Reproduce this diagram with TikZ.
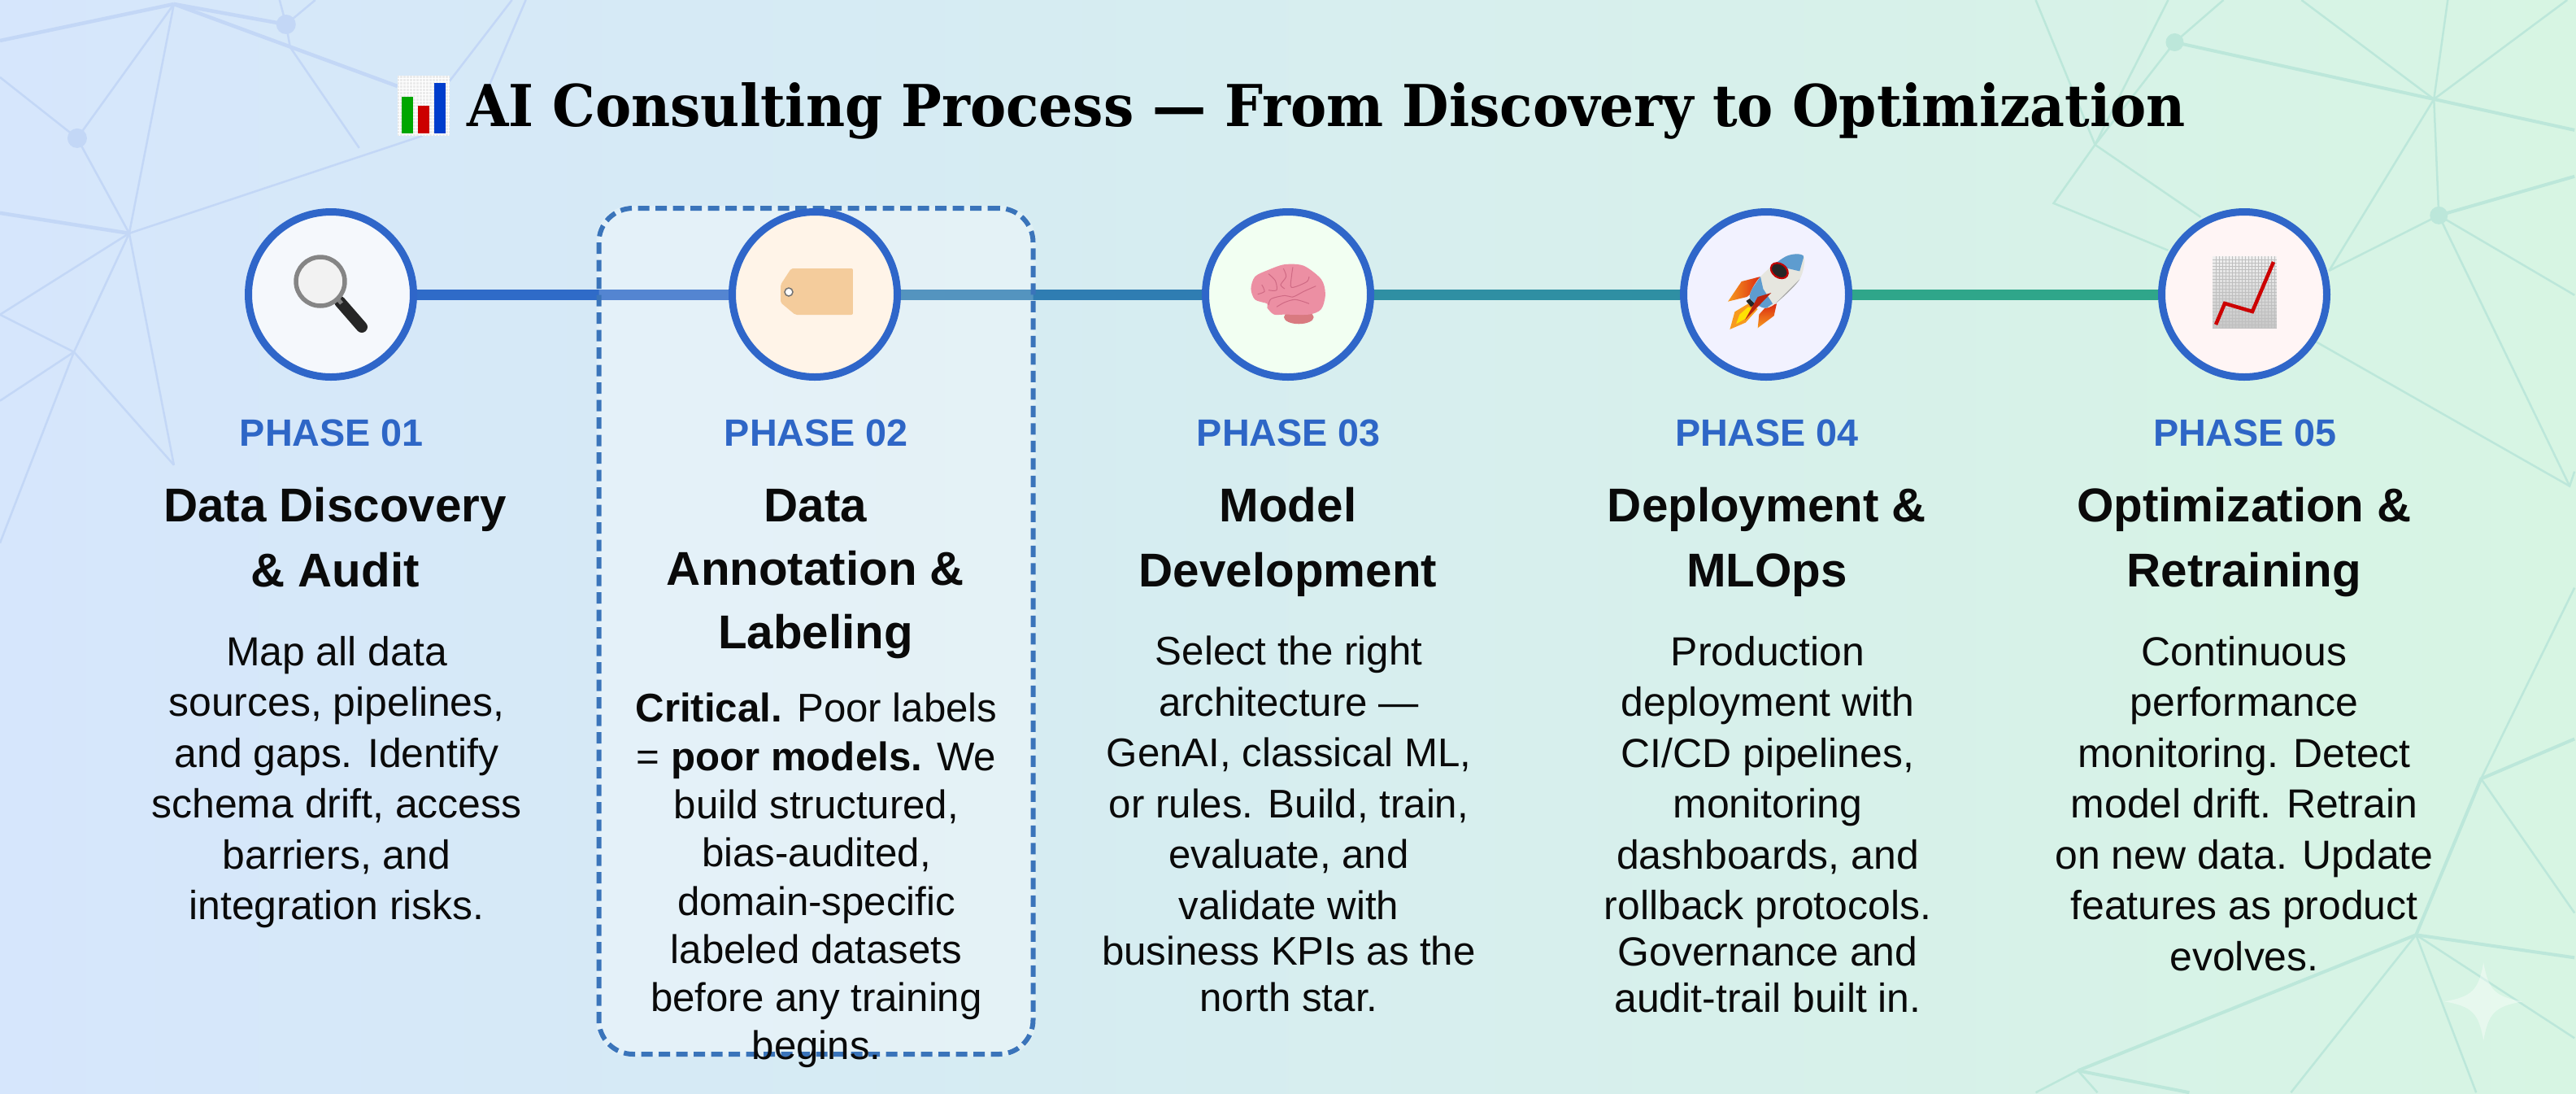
\documentclass[tikz,border=0pt]{standalone}
\usepackage{fontspec}
\usepackage{xcolor}
\setmainfont{Liberation Sans}
\newfontfamily\titlefont[FakeStretch=0.933]{DejaVu Serif}

\definecolor{bgleft}{HTML}{D6E6FC}
\definecolor{bgmid}{HTML}{D3E9EF}
\definecolor{bgright}{HTML}{D7F5E3}
\definecolor{netleft}{HTML}{C3D7F6}
\definecolor{netright}{HTML}{BCE7DA}
\definecolor{ringblue}{HTML}{2F66C9}
\definecolor{phaseblue}{HTML}{2E66C6}
\definecolor{dashblue}{HTML}{3A74BA}
\definecolor{inkblack}{HTML}{0A0A0A}
\definecolor{brainpink}{HTML}{EC8FA3}
\definecolor{brainfold}{HTML}{CF6A84}
\definecolor{brainstem}{HTML}{D97A80}
\definecolor{tagpeach}{HTML}{F4CC9C}
\definecolor{rocketblue}{HTML}{5E9CCF}
\definecolor{rocketpale}{HTML}{E6E6DF}
\definecolor{finred}{HTML}{DB2A12}
\definecolor{finorange}{HTML}{F79A1E}

\pgfdeclarelayer{backlayer}
\pgfdeclarelayer{linklayer}
\pgfsetlayers{backlayer,linklayer,main}

\begin{document}
\begin{tikzpicture}[
    disc/.style={circle, draw=ringblue, line width=0.09cm, minimum size=2.03cm, inner sep=0pt},
    link/.style={line width=0.13cm},
    phase/.style={anchor=base, text=phaseblue, inner sep=0pt, font=\fontsize{13.3}{16}\selectfont\bfseries},
    head/.style={anchor=north, align=center, text=inkblack, inner sep=0pt, execute at begin node=\strut, font=\fontsize{16.6}{22.76}\selectfont\bfseries},
    headtight/.style={head, font=\fontsize{16.6}{22.2}\selectfont\bfseries},
    body/.style={anchor=north, align=center, text=inkblack, inner sep=0pt, execute at begin node=\strut, font=\fontsize{14.2}{17.78}\selectfont},
    bodysmall/.style={body, font=\fontsize{14}{17.78}\selectfont},
    bodytight/.style={body, font=\fontsize{14}{16.87}\selectfont},
    netl/.style={draw=netleft, line width=0.025cm},
    netlb/.style={draw=netleft, line width=0.045cm},
    netr/.style={draw=netright, line width=0.025cm},
    netrb/.style={draw=netright, line width=0.04cm},
    iconpx/.style={x=0.01cm, y=-0.01cm},
    iconfine/.style={x=0.003333cm, y=-0.003333cm}
]
\useasboundingbox (0,0) rectangle (31.68,-13.44);

% Background
\begin{pgfonlayer}{backlayer}
\shade[left color=bgleft, middle color=bgmid, right color=bgright] (0,0) rectangle (31.68,-13.44);

% Network, top left
\begin{scope}[iconpx]
\draw[netlb] (214,5) -- (0,50);
\draw[netlb] (214,5) -- (352,30);
\draw[netlb] (214,5) -- (489,106);
\draw[netl] (214,5) -- (95,170);
\draw[netl] (214,5) -- (159,287);
\draw[netl] (344,0) -- (352,30) -- (388,0);
\draw[netl] (352,30) -- (357,58) -- (442,182);
\draw[netl] (630,0) -- (553,100);
\draw[netl] (647,0) -- (603,103);
\draw[netl] (0,95) -- (95,170) -- (159,287);
\draw[netlb] (159,287) -- (0,262);
\draw[netl] (159,287) -- (520,167);
\draw[netl] (159,287) -- (0,387);
\draw[netl] (0,387) -- (91,433);
\draw[netl] (159,287) -- (91,433);
\draw[netl] (159,287) -- (214,572);
\draw[netl] (91,433) -- (214,572);
\draw[netl] (91,433) -- (0,493);
\draw[netl] (91,433) -- (0,668);
\fill[netleft] (352,30) circle (12);
\fill[netleft] (95,170) circle (12);

% Network, top right
\draw[netr] (2505,0) -- (2578,178);
\draw[netr] (2668,0) -- (2578,178);
\draw[netr] (2736,0) -- (2676,52) -- (2578,178);
\draw[netrb] (2676,52) -- (2995,122) -- (3168,160);
\draw[netr] (2832,0) -- (2995,122);
\draw[netr] (3012,0) -- (2995,122);
\draw[netr] (3159,0) -- (2995,122);
\draw[netr] (2995,122) -- (3001,265);
\draw[netr] (2995,122) -- (2866,333);
\draw[netrb] (3001,265) -- (3168,217);
\draw[netr] (3001,265) -- (2866,333);
\draw[netr] (3001,265) -- (3162,598);
\draw[netr] (3001,265) -- (3168,363);
\draw[netr] (2578,178) -- (2527,250) -- (2668,308);
\draw[netr] (2578,178) -- (2708,267);
\draw[netr] (2800,392) -- (3162,598) -- (3168,580);
\fill[netright] (2676,52) circle (11);
\fill[netright] (3001,265) circle (11);

% Network, bottom right
\draw[netrb] (3168,909) -- (3053,958) -- (2973,1150);
\draw[netr] (3168,723) -- (3053,958) -- (3168,1123);
\draw[netrb] (2973,1150) -- (3168,1178);
\draw[netr] (2973,1150) -- (3168,1277);
\draw[netr] (2973,1150) -- (3047,1344);
\draw[netr] (2973,1150) -- (2819,1344);
\draw[netrb] (2973,1150) -- (2557,1317);
\draw[netr] (2505,1344) -- (2557,1317) -- (2581,1344);
\draw[netrb] (2557,1317) -- (2694,1344);

% Sparkle
\fill[white, opacity=0.4] (3056,1184) .. controls (3062,1218) and (3070,1226) .. (3104,1232)
    .. controls (3070,1238) and (3062,1246) .. (3056,1280)
    .. controls (3050,1246) and (3042,1238) .. (3008,1232)
    .. controls (3042,1226) and (3050,1218) .. (3056,1184);
\end{scope}
\end{pgfonlayer}

% Highlight behind phase 02
\node[draw=dashblue, line width=0.06cm, dash pattern=on 0.14cm off 0.075cm, fill=white, fill opacity=0.18, draw opacity=1,
    rounded corners=0.42cm, minimum width=5.34cm, minimum height=10.4cm, inner sep=0pt] (focus) at (10.035,-7.76) {};

% Title
\node[anchor=base, text=black, inner sep=0pt, font=\titlefont\fontsize{20.2}{24}\selectfont\bfseries] (title) at (16.31,-1.55)
    {AI Consulting Process — From Discovery to Optimization};
\begin{scope}[iconpx]
\fill[black!8] (489,93) rectangle (553,167);
\foreach \gridx in {492,496,...,552} {\draw[white, line width=0.006cm] (\gridx,93) -- (\gridx,167);}
\foreach \gridy in {96,100,...,166} {\draw[white, line width=0.006cm] (489,\gridy) -- (553,\gridy);}
\fill[green!65!black] (494,119) rectangle (508,164);
\fill[red!80!black] (514,130) rectangle (528,164);
\fill[blue!70!cyan!80!black] (534,102) rectangle (548,164);
\end{scope}

% Phase 01
\node[disc, fill=white!88!ringblue!40!white] (ph1) at (4.07,-3.62) {};
\node[phase] (lbl1) at (4.08,-5.48) {PHASE 01};
\node[head] (head1) at (4.12,-5.99) {Data Discovery\\\& Audit};
\node[body] (body1) at (4.14,-7.8125) {Map all data\\sources, pipelines,\\and gaps. Identify\\schema drift, access\\barriers, and\\integration risks.};
\begin{scope}[shift={(ph1)}, iconpx]
\draw[black!85, line width=0.14cm, line cap=round] (11,9) -- (38,40);
\draw[black!50, line width=0.05cm] (3,-1) -- (13,11);
\fill[black!5] (-13,-16) circle (30);
\draw[black!48, line width=0.055cm] (-13,-16) circle (30);
\end{scope}

% Phase 02
\node[disc, fill=orange!9] (ph2) at (10.02,-3.62) {};
\node[phase] (lbl2) at (10.04,-5.48) {PHASE 02};
\node[headtight] (head2) at (10.03,-6.01) {Data\\Annotation \&\\Labeling};
\node[bodytight] (body2) at (10.04,-8.515) {\textbf{Critical.} Poor labels\\= \textbf{poor models.} We\\build structured,\\bias-audited,\\domain-specific\\labeled datasets\\before any training\\begins.};
\begin{scope}[shift={(ph2)}, iconpx]
\fill[tagpeach, rounded corners=0.02cm] (47,-32) -- (-29,-32) -- (-42,-12) -- (-42,10) -- (-24,25) -- (47,25) -- cycle;
\filldraw[fill=white, draw=black!55, line width=0.015cm] (-32,-3) circle (5);
\end{scope}

% Phase 03
\node[disc, fill=green!5] (ph3) at (15.84,-3.62) {};
\node[phase] (lbl3) at (15.85,-5.48) {PHASE 03};
\node[head] (head3) at (15.84,-5.99) {Model\\Development};
\node[bodysmall] (body3) at (15.85,-7.8125) {Select the right\\architecture —\\GenAI, classical ML,\\or rules. Build, train,\\evaluate, and\\validate with\\[-1.6pt]business KPIs as the\\[-1.6pt]north star.};
\begin{scope}[shift={(ph3)}, iconfine, shift={(-222,-216)}]
\fill[brainstem] (262,300) ellipse (55 and 25);
\fill[brainpink] plot[smooth cycle] coordinates {(85,195) (100,150) (150,125) (210,105) (280,110) (345,160) (360,215) (345,270) (300,290) (210,290) (170,290) (145,265) (145,250) (100,235)};
\foreach \fold in {
    {(150,255) (160,232) (210,220) (240,225) (280,205) (325,185)},
    {(180,262) (210,245) (250,235) (300,250)},
    {(125,180) (135,205) (110,215)},
    {(150,140) (175,165) (180,200) (150,200)},
    {(205,120) (215,150) (195,180) (210,195)},
    {(240,115) (235,150) (235,190) (290,170) (300,150)}} {
    \draw[brainfold, line width=0.01cm] plot[smooth] coordinates \fold;
}
\end{scope}

% Phase 04
\node[disc, fill=blue!5] (ph4) at (21.72,-3.62) {};
\node[phase] (lbl4) at (21.73,-5.48) {PHASE 04};
\node[head] (head4) at (21.73,-5.99) {Deployment \&\\MLOps};
\node[body] (body4) at (21.74,-7.8125) {Production\\deployment with\\CI/CD pipelines,\\monitoring\\dashboards, and\\rollback protocols.\\[-1.6pt]Governance and\\[-1.6pt]audit-trail built in.};
\begin{scope}[shift={(ph4)}, iconfine, shift={(-216,-216)}]
% fins and flame
\shade[left color=finorange, right color=finred] (195,150) -- (125,168) -- (75,242) -- (145,225) -- (170,205) -- cycle;
\shade[bottom color=finorange, top color=finred] (255,250) -- (245,295) -- (185,340) -- (190,290) -- (215,262) -- cycle;
\fill[finorange] (150,250) -- (100,280) -- (82,345) -- (140,320) -- (185,270) -- cycle;
\fill[yellow!85!orange] (150,262) -- (118,290) -- (105,325) -- (140,305) -- (172,272) -- cycle;
\fill[black!85] (142,240) -- (160,228) -- (180,248) -- (160,262) -- cycle;
% body
\begin{scope}
\clip plot[smooth cycle] coordinates {(355,75) (290,75) (195,150) (155,225) (205,265) (250,250) (340,160)};
\fill[rocketpale] (140,60) rectangle (360,270);
\fill[rocketblue] (195,150) -- (140,230) -- (205,275) -- (240,250) -- (205,195) -- cycle;
\fill[rocketblue] (360,60) -- (280,60) -- (245,108) -- (340,130) -- cycle;
\fill[black!35] (250,250) -- (340,160) -- (345,190) -- (260,270) -- cycle;
\end{scope}
\filldraw[fill=black!85, draw=red!75!black, line width=0.022cm, rotate around={-35:(265,128)}] (265,128) ellipse (34 and 25);
\fill[finred!85!black] (235,210) -- (138,310) -- (185,225) -- cycle;
\end{scope}

% Phase 05
\node[disc, fill=red!4] (ph5) at (27.60,-3.62) {};
\node[phase] (lbl5) at (27.61,-5.48) {PHASE 05};
\node[head] (head5) at (27.60,-5.99) {Optimization \&\\Retraining};
\node[body] (body5) at (27.60,-7.8125) {Continuous\\performance\\monitoring. Detect\\model drift. Retrain\\on new data. Update\\features as product\\evolves.};
\begin{scope}[shift={(ph5)}, iconpx]
\shade[top color=black!6, bottom color=black!22] (-39,-47) rectangle (40,42);
\foreach \gridx in {-35,-31,...,39} {\draw[black!25, line width=0.004cm] (\gridx,-47) -- (\gridx,42);}
\foreach \gridy in {-43,-39,...,41} {\draw[black!25, line width=0.004cm] (-39,\gridy) -- (40,\gridy);}
\draw[red!80!black, line width=0.045cm, line join=miter] (-35,37) -- (-24,11) -- (10,21) -- (36,-40);
\end{scope}

% Connectors
\begin{pgfonlayer}{linklayer}
\definecolor{linkone}{HTML}{2F6BC8}
\definecolor{linktwo}{HTML}{2F7DB2}
\definecolor{linkthree}{HTML}{2F8FA3}
\definecolor{linkfour}{HTML}{2FA68A}
\fill[white, fill opacity=0.24, rounded corners=0.42cm] (focus.north west) rectangle (focus.south east);
\draw[link, draw=linkone] (ph1) -- (ph2);
\draw[link, draw=linktwo] (ph2) -- (ph3);
\draw[link, draw=linkthree] (ph3) -- (ph4);
\draw[link, draw=linkfour] (ph4) -- (ph5);
\end{pgfonlayer}

\end{tikzpicture}
\end{document}
